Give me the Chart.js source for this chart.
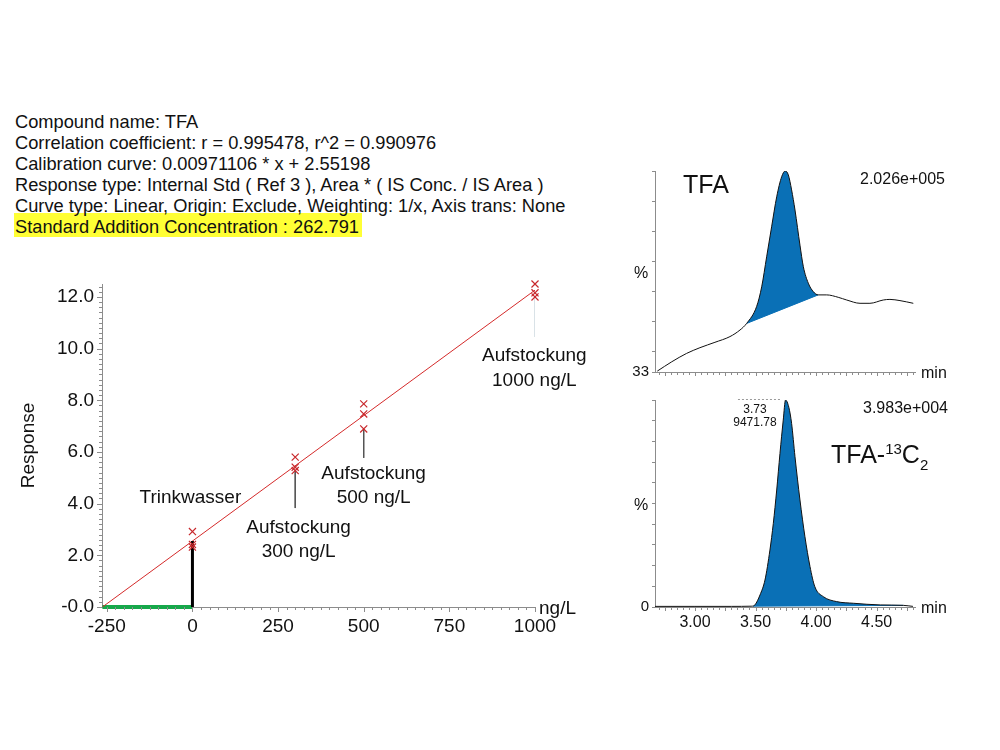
<!DOCTYPE html>
<html>
<head>
<meta charset="utf-8">
<title>TFA standard addition</title>
<script src="https://cdn.jsdelivr.net/npm/chart.js@4.4.1/dist/chart.umd.min.js"></script>
<style>
html,body{margin:0;padding:0;background:#fff}
body{width:1000px;height:750px;position:relative;overflow:hidden;font-family:'Liberation Sans',Arial,Helvetica,sans-serif;color:#111}
canvas{position:absolute;left:0;top:0}
#hl{position:absolute;left:14px;top:213px;width:348px;height:24px;background:#ffff35}
#hdr{position:absolute;left:15px;top:111.3px;font-size:18.25px;line-height:21px;white-space:nowrap}
.lbl{position:absolute;white-space:nowrap}
</style>
</head>
<body>
<div id="hl"></div>
<div id="hdr">
<div>Compound name: TFA</div>
<div>Correlation coefficient: r = 0.995478, r^2 = 0.990976</div>
<div>Calibration curve: 0.00971106 * x + 2.55198</div>
<div>Response type: Internal Std ( Ref 3 ), Area * ( IS Conc. / IS Area )</div>
<div>Curve type: Linear, Origin: Exclude, Weighting: 1/x, Axis trans: None</div>
<div>Standard Addition Concentration : 262.791</div>
</div>
<canvas id="cal" width="1000" height="750"></canvas>
<canvas id="tfa" width="1000" height="750"></canvas>
<canvas id="istd" width="1000" height="750"></canvas>
<script>
// ---------- calibration (standard addition) data ----------
const concX     = [0, 0, 0, 300, 300, 300, 500, 500, 500, 1000, 1000, 1000];
const responseY = [2.92, 2.42, 2.32, 5.80, 5.41, 5.28, 7.86, 7.47, 6.89, 12.50, 12.16, 12.00];
const fitX = [-262.791, 1000];
const fitY = [0, 12.263];
const sampleX = [0, 0];
const sampleY = [0, 2.552];
const additionX = [-262.791, 0];
const additionY = [0, 0];
const leadX      = [300, 500, 1000];
const leadTop    = [5.28, 6.89, 12.00];
const leadBottom = [3.83, 5.77, 10.45];
const xTicks = [-250, 0, 250, 500, 750, 1000];
const xTickLabels = ['-250', '0', '250', '500', '750', '1000'];
const yTicks = [0, 2, 4, 6, 8, 10, 12];
const yTickLabels = ['-0.0', '2.0', '4.0', '6.0', '8.0', '10.0', '12.0'];
const noteTexts = [['Trinkwasser'], ['Aufstockung', '300 ng/L'], ['Aufstockung', '500 ng/L'], ['Aufstockung', '1000 ng/L']];

// ---------- chromatogram data ----------
const tfaTime = [2.689, 2.808, 2.931, 3.041, 3.165, 3.289, 3.372, 3.427, 3.509, 3.551, 3.592, 3.633, 3.675, 3.716, 3.745, 3.771, 3.798, 3.826, 3.867, 3.895, 3.936, 3.977, 4.018, 4.088, 4.183, 4.253, 4.363, 4.445, 4.555, 4.610, 4.693, 4.803];
const tfaPct  = [33.3, 36.4, 39.2, 41.1, 42.9, 44.8, 47.0, 49.2, 54.8, 61.4, 71.4, 81.4, 91.4, 98.1, 100, 98.7, 93.7, 87.0, 75.3, 68.1, 62.6, 59.8, 58.7, 58.7, 57.9, 57.0, 55.9, 55.9, 57.0, 57.2, 56.8, 55.9];
const tfaBaseTime = [3.427, 4.018];
const tfaBasePct  = [49.2, 58.7];
const isTime = [2.67, 3.00, 3.30, 3.47, 3.495, 3.537, 3.578, 3.619, 3.647, 3.675, 3.702, 3.729, 3.748, 3.775, 3.798, 3.826, 3.867, 3.908, 3.95, 3.99, 4.06, 4.17, 4.31, 4.53, 4.72, 4.80];
const isPct  = [0.3, 0.3, 0.3, 0.4, 1.0, 5.8, 13.0, 27.5, 40.4, 56.5, 74.2, 90.3, 100, 96.5, 88.7, 72.6, 51.7, 34.0, 19.5, 9.8, 5.0, 2.6, 1.8, 1.0, 0.8, 0.3];
const isBaseTime = [3.48, 4.72];
const isBasePct  = [0.4, 0.8];
const chromXTicks = [3.00, 3.50, 4.00, 4.50];
const chromXTickLabels = ['3.00', '3.50', '4.00', '4.50'];
const tfaYTicks = [33, 40, 50, 60, 70, 80, 90, 100];
const tfaYTickLabels = ['33', '', '', '', '', '', '', ''];
const isYTicks = [0, 10, 20, 30, 40, 50, 60, 70, 80, 90, 100];
const isYTickLabels = ['0', '', '', '', '', '', '', '', '', '', ''];

const FONT = "'Liberation Sans', Arial, Helvetica, sans-serif";
Chart.defaults.font.family = FONT;
Chart.defaults.color = '#111';
Chart.defaults.animation = false;
const AXIS = '#8c8c8c';
const pts = (xs, ys) => xs.map((x, i) => ({x: x, y: ys[i]}));

// ---------- main calibration chart ----------
const notePlacement = [
  {x: -6, y: 4.03}, {x: 310, y: 2.87}, {x: 529, y: 4.96}, {x: 998, y: 9.52}
];
const calDecor = {
  id: 'calDecor',
  afterDraw(chart) {
    const {ctx, chartArea: a} = chart;
    const xs = chart.scales.x, ys = chart.scales.y;
    ctx.save();
    ctx.strokeStyle = AXIS; ctx.lineWidth = 1; ctx.beginPath();
    for (let k = 0; k <= 62; k++) {
      const py = Math.round(ys.getPixelForValue(k * 0.2)) + 0.5;
      if (py < a.top) break;
      const len = (k % 10 === 0) ? 5 : 3;
      ctx.moveTo(a.left - len, py); ctx.lineTo(a.left, py);
    }
    for (let k = -10; k <= 40; k++) {
      const v = k * 25;
      if (v < xs.min || v > xs.max) continue;
      const px = Math.round(xs.getPixelForValue(v)) + 0.5;
      const len = (k % 10 === 0) ? 5 : 3;
      ctx.moveTo(px, a.bottom); ctx.lineTo(px, a.bottom + len);
    }
    ctx.stroke();
    ctx.fillStyle = '#111'; ctx.font = '19px ' + FONT; ctx.textBaseline = 'alphabetic'; ctx.textAlign = 'center';
    noteTexts.forEach((lines, i) => {
      const px = xs.getPixelForValue(notePlacement[i].x);
      const py = ys.getPixelForValue(notePlacement[i].y);
      lines.forEach((t, j) => ctx.fillText(t, px, py + j * 24.5));
    });
    ctx.textAlign = 'left';
    ctx.fillText('ng/L', a.right + 4, a.bottom + 7);
    ctx.restore();
  }
};

const leadSets = leadX.map((x, i) => ({
  data: pts([x, x], [leadTop[i], leadBottom[i]]),
  showLine: true, borderColor: i === 2 ? '#d3dde2' : '#555', borderWidth: 1, pointRadius: 0, order: 5
}));

new Chart(document.getElementById('cal'), {
  type: 'line',
  data: {datasets: [
    {data: pts(concX, responseY), showLine: false, pointStyle: 'crossRot', pointRadius: 5, clip: false,
     pointBorderColor: '#c8282c', pointBorderWidth: 1.2, pointBackgroundColor: 'rgba(0,0,0,0)', order: 0},
    {data: pts(sampleX, sampleY), showLine: true, borderColor: '#000', borderWidth: 3, pointRadius: 0, order: 1},
    {data: pts(fitX, fitY), showLine: true, borderColor: '#d42a2a', borderWidth: 1, pointRadius: 0, order: 2},
    {data: pts(additionX, additionY), showLine: true, borderColor: '#16a84a', borderWidth: 4, pointRadius: 0, clip: false, order: 3},
    ...leadSets
  ]},
  options: {
    responsive: false, animation: false, events: [],
    layout: {padding: {left: 0, top: 284, right: 465, bottom: 103}},
    plugins: {legend: {display: false}, tooltip: {enabled: false}},
    scales: {
      x: {type: 'linear', min: -264, max: 1000,
        afterFit: s => { s.height = 40; },
        afterBuildTicks: s => { s.ticks = xTicks.map(v => ({value: v})); },
        grid: {drawOnChartArea: false, drawTicks: false, color: AXIS},
        border: {color: AXIS, width: 1},
        ticks: {padding: 8, font: {size: 19}, color: '#111', maxRotation: 0, autoSkip: false,
          callback: v => xTickLabels[xTicks.indexOf(v)]}},
      y: {type: 'linear', min: 0, max: 12.5,
        afterFit: s => { s.width = 102; },
        afterBuildTicks: s => { s.ticks = yTicks.map(v => ({value: v})); },
        grid: {drawOnChartArea: false, drawTicks: false, color: AXIS},
        border: {color: AXIS, width: 1},
        title: {display: true, text: 'Response', font: {size: 19}, color: '#111', padding: {top: 17, bottom: 0}},
        ticks: {padding: 8, font: {size: 19}, color: '#111', autoSkip: false,
          callback: v => yTickLabels[yTicks.indexOf(v)]}}
    }
  },
  plugins: [calDecor]
});

// ---------- chromatograms ----------
const chromDecor = {
  id: 'chromDecor',
  afterDraw(chart, args, o) {
    const {ctx, chartArea: a} = chart;
    const xs = chart.scales.x, ys = chart.scales.y;
    ctx.save();
    ctx.strokeStyle = AXIS; ctx.lineWidth = 1; ctx.beginPath();
    for (let k = 54; k <= 96; k++) {
      const px = Math.round(xs.getPixelForValue(k * 0.05)) + 0.5;
      const len = (k % 5 === 0) ? 4 : 3;
      ctx.moveTo(px, a.bottom); ctx.lineTo(px, a.bottom + len);
    }
    ctx.stroke();
    ctx.fillStyle = '#111'; ctx.textBaseline = 'alphabetic';
    ctx.font = '16px ' + FONT; ctx.textAlign = 'center';
    ctx.fillText('%', a.left - 14, (a.top + a.bottom) / 2 + 6);
    ctx.textAlign = 'left';
    ctx.fillText('min', a.right + 6, a.bottom + 6);
    if (o.apex) {
      const px1 = xs.getPixelForValue(o.apex.from), px2 = xs.getPixelForValue(o.apex.to);
      const py = Math.round(ys.getPixelForValue(100)) - 0.5;
      ctx.strokeStyle = '#9a9a9a'; ctx.setLineDash([2, 2]); ctx.beginPath();
      ctx.moveTo(px1, py); ctx.lineTo(px2, py); ctx.stroke(); ctx.setLineDash([]);
      const cx = xs.getPixelForValue(o.apex.labelAt);
      ctx.font = '12px ' + FONT; ctx.textAlign = 'center';
      ctx.fillText(o.apex.lines[0], cx, py + 13);
      ctx.fillText(o.apex.lines[1], cx, py + 26);
    }
    ctx.restore();
  }
};

function chrom(id, c) {
  return new Chart(document.getElementById(id), {
    type: 'line',
    data: {datasets: [
      {data: pts(c.t, c.p), showLine: true, borderColor: '#111', borderWidth: 1, pointRadius: 0,
       cubicInterpolationMode: 'monotone', fill: {target: 1}, backgroundColor: '#0a70b6'},
      {data: pts(c.bt, c.bp), showLine: true, borderColor: '#0a70b6', borderWidth: 1, pointRadius: 0, fill: false}
    ]},
    options: {
      responsive: false, animation: false, events: [],
      layout: {padding: {left: 615, top: c.top, right: 85, bottom: 750 - c.bottom - c.xh}},
      plugins: {legend: {display: false}, tooltip: {enabled: false}, chromDecor: {apex: c.apex}},
      scales: {
        x: {type: 'linear', min: 2.67, max: 4.817,
          afterFit: s => { s.height = c.xh; },
          afterBuildTicks: s => { s.ticks = chromXTicks.map(v => ({value: v})); },
          grid: {drawOnChartArea: false, drawTicks: false, color: AXIS},
          border: {color: AXIS},
          ticks: {display: c.showX, padding: 6, font: {size: 16}, color: '#111', maxRotation: 0, autoSkip: false,
            callback: v => chromXTickLabels[chromXTicks.indexOf(v)]}},
        y: {type: 'linear', min: c.ymin, max: 100,
          afterFit: s => { s.width = 40; },
          afterBuildTicks: s => { s.ticks = c.yt.map(v => ({value: v})); },
          grid: {drawOnChartArea: false, drawTicks: true, tickLength: 3, color: AXIS},
          border: {color: AXIS},
          ticks: {padding: 3, font: {size: 15}, color: '#111', autoSkip: false,
            callback: v => c.yl[c.yt.indexOf(v)]}}
      }
    },
    plugins: [chromDecor]
  });
}

chrom('tfa', {t: tfaTime, p: tfaPct, bt: tfaBaseTime, bp: tfaBasePct, ymin: 33, top: 171, bottom: 372, xh: 10,
  showX: false, yt: tfaYTicks, yl: tfaYTickLabels, apex: null});
chrom('istd', {t: isTime, p: isPct, bt: isBaseTime, bp: isBasePct, ymin: 0, top: 400, bottom: 607, xh: 30,
  showX: true, yt: isYTicks, yl: isYTickLabels,
  apex: {from: 3.355, to: 3.718, labelAt: 3.495, lines: ['3.73', '9471.78']}});

// ---------- panel labels ----------
function placeText(html, x, baseline, size) {
  const d = document.createElement('div');
  d.className = 'lbl';
  d.innerHTML = html;
  d.style.fontSize = size + 'px';
  d.style.lineHeight = size + 'px';
  d.style.left = x + 'px';
  d.style.top = (baseline - 0.8465 * size) + 'px';
  document.body.appendChild(d);
}
placeText('TFA', 683, 193.3, 25);
placeText('2.026e+005', 860, 185, 16);
placeText('3.983e+004', 863, 413.3, 16);
placeText('TFA-<span style="font-size:15px;position:relative;top:-9px">13</span>C<span style="font-size:15px;position:relative;top:7px">2</span>', 831, 463.3, 25);
</script>
</body>
</html>
